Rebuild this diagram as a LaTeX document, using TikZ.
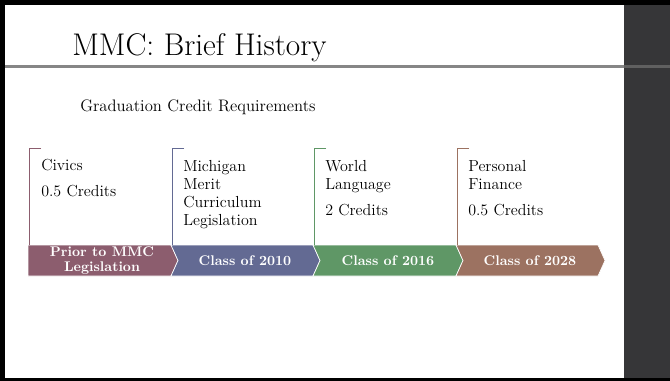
\documentclass[tikz,border=0pt]{standalone}
\usetikzlibrary{positioning}
\definecolor{mauve}{HTML}{8C5D6E}
\definecolor{slate}{HTML}{636A93}
\definecolor{sage}{HTML}{5F9766}
\definecolor{clay}{HTML}{9C7261}
\definecolor{panel}{HTML}{363638}

\begin{document}
\begin{tikzpicture}[x=0.75pt, y=-0.75pt,
		chev/.style={draw=white, line width=0.5pt},
		chevtext/.style={text=white, align=center, inner sep=0pt, font=\fontsize{10.5}{11.25}\selectfont\bfseries},
		brk/.style={line width=0.75pt},
		boxtext/.style={anchor=base west, align=left, inner sep=0pt, font=\fontsize{12}{13.5}\selectfont}]
		\useasboundingbox (0,0) rectangle (670,381);
		% slide frame and side panel
		\fill[black] (0,0) rectangle (670,381);
		\fill[white] (5,5) rectangle (624,378);
		\fill[panel] (624,5) rectangle (670,378);
		\draw[line width=2.25pt, gray!95] (5,67) -- (624,67);
		\draw[line width=2.25pt, gray!75!black] (624,67) -- (670,67);
		% headings
		\node[anchor=base west, inner sep=0pt, font=\fontsize{23.5}{28}\selectfont] (title) at (72,56) {MMC: Brief History};
		\node[anchor=base west, inner sep=0pt, font=\fontsize{12.5}{15}\selectfont] (subtitle) at (80,112) {Graduation Credit Requirements};
		% timeline
		\fill[mauve, chev] (28,245) -- (171,245) -- (178,260.5) -- (171,276) -- (28,276) -- cycle;
		\fill[slate, chev] (171,245) -- (313,245) -- (320,260.5) -- (313,276) -- (171,276) -- (178,260.5) -- cycle;
		\fill[sage, chev] (313,245) -- (456,245) -- (463,260.5) -- (456,276) -- (313,276) -- (320,260.5) -- cycle;
		\fill[clay, chev] (456,245) -- (598,245) -- (605,260.5) -- (598,276) -- (456,276) -- (463,260.5) -- cycle;
		\node[chevtext] (prior) at (102,260.5) {Prior to MMC\\Legislation};
		\node[chevtext] (c2010) at (245,260.5) {Class of 2010};
		\node[chevtext] (c2016) at (388,260.5) {Class of 2016};
		\node[chevtext] (c2028) at (530,260.5) {Class of 2028};
		% brackets (text anchored at its last baseline)
		\draw[brk, mauve] (41,148) -- (29,148) -- (29,245);
		\draw[brk, slate] (184,148) -- (172,148) -- (172,245);
		\draw[brk, sage] (326,148) -- (314,148) -- (314,245);
		\draw[brk, clay] (469,148) -- (457,148) -- (457,245);
		\node[boxtext] (civics) at (41,196) {Civics\\[6pt]0.5 Credits};
		\node[boxtext] (mmc) at (183,225) {Michigan\\Merit\\Curriculum\\Legislation};
		\node[boxtext] (world) at (325,215) {World\\Language\\[6pt]2 Credits};
		\node[boxtext] (finance) at (468,215) {Personal\\Finance\\[6pt]0.5 Credits};
	\end{tikzpicture}
\end{document}
